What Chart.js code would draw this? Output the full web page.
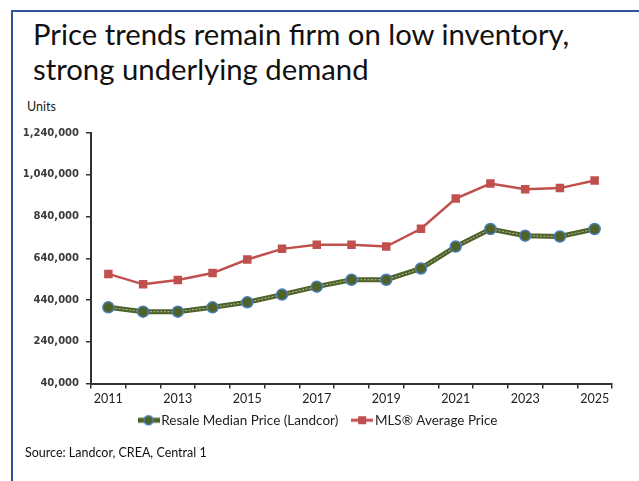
<!DOCTYPE html>
<html>
<head>
<meta charset="utf-8">
<script src="https://cdn.jsdelivr.net/npm/chart.js@4.4.1/dist/chart.umd.min.js"></script>
<style>
  html, body { margin: 0; padding: 0; background: #fff; }
  #wrap { position: relative; width: 639px; height: 481px; overflow: hidden; }
  #frame { position: absolute; left: 11px; top: 10px; width: 640px; height: 480px;
           border-left: 2px solid #2F5597; border-top: 2px solid #2F5597; }
  #title { position: absolute; left: 33px; top: 16px; font-family: Lato, sans-serif;
           font-size: 29.3px; line-height: 35px; color: #111; }
  #units { position: absolute; left: 27px; top: 99px; font-family: Lato, sans-serif;
           font-size: 12.5px; color: #222; }
  #source { position: absolute; left: 25px; top: 445px; font-family: Lato, sans-serif;
            font-size: 12.5px; color: #111; }
  #price_chart { position: absolute; left: 0; top: 0; }
</style>
</head>
<body>
<div id="wrap">
  <div id="frame"></div>
  <div id="title">Price trends remain firm on low inventory,<br>strong underlying demand</div>
  <div id="units">Units</div>
  <canvas id="price_chart" width="639" height="481"></canvas>
  <div id="source">Source: Landcor, CREA, Central 1</div>
</div>
<script>
var years = ['2011', '2012', '2013', '2014', '2015', '2016', '2017', '2018',
             '2019', '2020', '2021', '2022', '2023', '2024', '2025'];
var resale_median = [405000, 384000, 384000, 405000, 429000, 466000, 504000, 537000,
                     537000, 591000, 696000, 780000, 748000, 744000, 780000];
var mls_average = [565000, 515000, 536000, 569000, 634000, 685000, 705000, 705000,
                   696000, 781000, 926000, 998000, 971000, 976000, 1012000];
var y_ticks = [40000, 240000, 440000, 640000, 840000, 1040000, 1240000];

var GREEN = '#4F6228';
var GREEN_EDGE = '#4A7EBB';
var RED = '#C0504D';

// small line + marker swatches for the legend
function legendSwatch(kind) {
    var c = document.createElement('canvas');
    c.width = 22; c.height = 12;
    var ctx = c.getContext('2d');
    ctx.lineWidth = kind == 'green' ? 5 : 3;
    ctx.strokeStyle = kind == 'green' ? GREEN : RED;
    ctx.beginPath();
    ctx.moveTo(0, 6); ctx.lineTo(22, 6);
    ctx.stroke();
    if (kind == 'green') {
        ctx.beginPath();
        ctx.arc(11, 6, 4.5, 0, Math.PI * 2);
        ctx.fillStyle = GREEN;
        ctx.fill();
        ctx.lineWidth = 1.5;
        ctx.strokeStyle = GREEN_EDGE;
        ctx.stroke();
    } else {
        ctx.fillStyle = RED;
        ctx.fillRect(7, 2, 8, 8);
    }
    return c;
}

// centre the legend under the whole page rather than the padded box
var legendNudge = {
    id: 'legendNudge',
    afterLayout: function(chart) {
        var lg = chart.legend;
        if (!lg) return;
        lg.left += 14;
        lg.right += 14;
    }
};

function buildPriceChart() {
    var pc = document.getElementById('price_chart');
    var priceChart = new Chart(pc, {
        type: 'line',
        data: {
            labels: years,
            datasets: [{
                // outer stroke of the compound line
                label: 'green_base',
                data: resale_median,
                borderColor: GREEN,
                borderWidth: 5,
                pointRadius: 0,
                fill: false,
                order: 3
            },
            {
                // light inner stripe of the compound line
                label: 'green_inner',
                data: resale_median,
                borderColor: 'rgba(220,228,205,0.7)',
                borderWidth: 1,
                borderDash: [2, 1.5],
                pointRadius: 0,
                fill: false,
                order: 2
            },
            {
                label: 'Resale Median Price (Landcor)',
                data: resale_median,
                showLine: false,
                pointStyle: 'circle',
                pointRadius: 5.5,
                pointBackgroundColor: GREEN,
                pointBorderColor: GREEN_EDGE,
                pointBorderWidth: 1.5,
                order: 1
            },
            {
                label: 'MLS\u00AE Average Price',
                data: mls_average,
                borderColor: RED,
                borderWidth: 2.5,
                pointStyle: 'rect',
                pointRadius: 6,
                pointBackgroundColor: RED,
                pointBorderColor: RED,
                pointBorderWidth: 0,
                fill: false,
                order: 0
            }]
        },
        options: {
            responsive: false,
            animation: false,
            layout: {
                padding: { left: 0, right: 27, top: 133, bottom: 44 }
            },
            plugins: {
                tooltip: { enabled: false },
                legend: {
                    display: true,
                    position: 'bottom',
                    labels: {
                        usePointStyle: true,
                        pointStyleWidth: 12,
                        padding: 4,
                        color: '#222',
                        font: { family: 'Lato', size: 13.5 },
                        generateLabels: function(chart) {
                            return [
                                { text: 'Resale Median Price (Landcor)    ', pointStyle: legendSwatch('green'),
                                  datasetIndex: 2, fontColor: '#222', lineWidth: 0 },
                                { text: 'MLS\u00AE Average Price', pointStyle: legendSwatch('red'),
                                  datasetIndex: 3, fontColor: '#222', lineWidth: 0 }
                            ];
                        }
                    }
                }
            },
            scales: {
                x: {
                    type: 'category',
                    offset: true,
                    grid: {
                        display: true,
                        offset: true,
                        drawOnChartArea: false,
                        tickLength: 5,
                        color: '#333',
                        lineWidth: 1.5
                    },
                    border: { display: true, color: '#333', width: 2 },
                    ticks: {
                        autoSkip: false,
                        maxRotation: 0,
                        padding: 3,
                        color: '#222',
                        font: { family: 'Lato', size: 12.5 },
                        callback: function(value, index) {
                            return index % 2 == 0 ? years[index] : '';
                        }
                    }
                },
                y: {
                    min: y_ticks[0],
                    max: y_ticks[y_ticks.length - 1],
                    afterFit: function(scale) { scale.width = 91; },
                    afterBuildTicks: function(scale) {
                        scale.ticks = y_ticks.map(function(v) { return { value: v }; });
                    },
                    grid: {
                        display: true,
                        drawOnChartArea: false,
                        tickLength: 5,
                        color: '#333',
                        lineWidth: 1.5
                    },
                    border: { display: true, color: '#333', width: 2 },
                    ticks: {
                        padding: 7,
                        color: '#3a3a3a',
                        font: { family: 'DejaVu Sans', size: 10, weight: 'bold' },
                        callback: function(value) { return value.toLocaleString('en-US'); }
                    }
                }
            }
        },
        plugins: [legendNudge]
    });
}

buildPriceChart();
</script>
</body>
</html>
